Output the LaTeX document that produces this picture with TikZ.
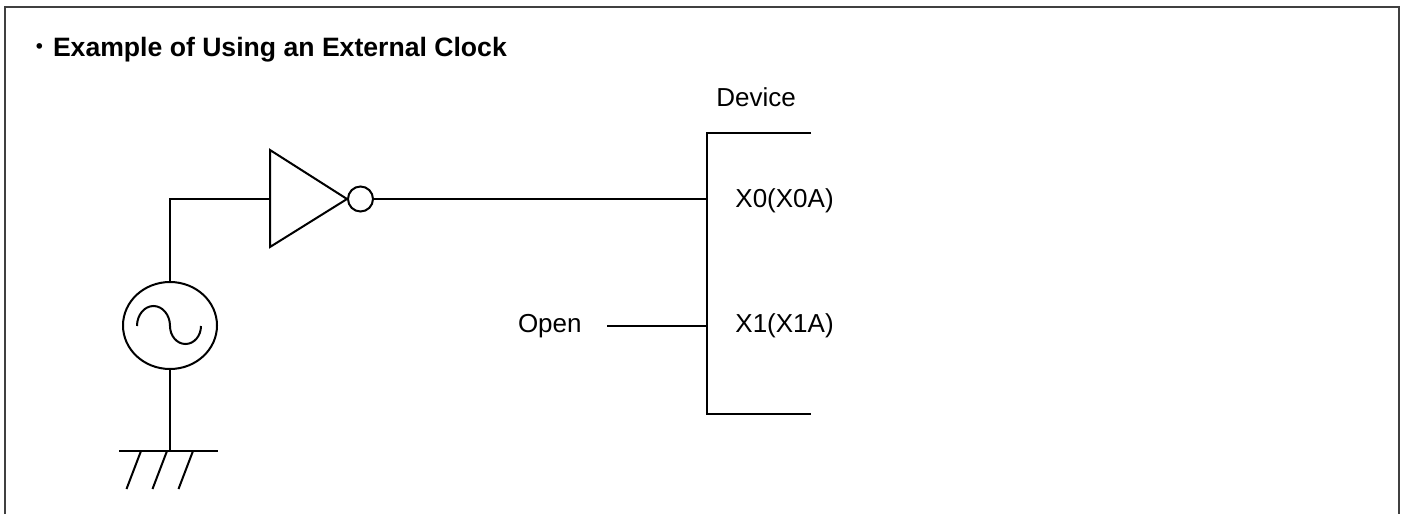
\documentclass[tikz,border=0pt]{standalone}
\usepackage{fontspec}
\setmainfont{Liberation Sans}
\newfontfamily\cjk{Noto Sans CJK JP}
\usetikzlibrary{positioning,shapes.geometric}

\tikzset{
  wire/.style={line width=1pt, color=black},
  pinlabel/.style={inner sep=0pt, font=\fontsize{13}{15}\selectfont},
}

\begin{document}
\begin{tikzpicture}[x=0.5pt,y=-0.5pt]
\useasboundingbox (0,0) rectangle (1402,514);

% frame, open at the bottom
\draw [color=black!75, line width=1.2pt] (5,514) -- (5,7) -- (1399,7) -- (1399,514);

\node [anchor=base west, inner sep=0pt, font=\fontsize{13.3}{15}\selectfont\bfseries] (title)
  at (26,56) {{\cjk\mdseries ・}Example of Using an External Clock};

% inverter
\coordinate (inv in) at (270,199);
\coordinate (inv out) at (347,199);
\draw [wire] (270,150) -- (inv out) -- (270,247) -- cycle;
\node [draw, circle, line width=1pt, minimum size=12.5pt, inner sep=0pt, right=0pt of inv out] (bubble) {};

% oscillator
\node [draw, ellipse, line width=1pt, minimum width=47pt, minimum height=43.5pt, inner sep=0pt] (osc) at (170,325.5) {};
\draw [wire] (137,326) arc (180:360:16.5 and 20) arc (180:0:15.5 and 18);

% ground
\coordinate (gnd) at (170,451);
\draw [wire] (119,451) -- (218,451);
\foreach \x in {141,167,193}
  \draw [wire] (\x,451) -- ++(-14.5,38);

% device
\draw [wire] (811,133) -- (707,133) -- (707,414) -- (811,414);
\coordinate (dev x0) at (707,199);
\coordinate (dev x1) at (707,326);
\node [pinlabel] (device) at (756,97) {Device};
\node [pinlabel, anchor=west] (x0) at (735,201) {X0(X0A)};
\node [pinlabel, anchor=west] (x1) at (735,326) {X1(X1A)};
\node [pinlabel, anchor=east] (open) at (582,326) {Open};

% wires
\draw [wire] (inv in) -| (osc.north);
\draw [wire] (osc.south) -- (gnd);
\draw [wire] (bubble.east) -- (dev x0);
\draw [wire] ([xshift=12.5pt]open.east) -- (dev x1);

\end{tikzpicture}
\end{document}
